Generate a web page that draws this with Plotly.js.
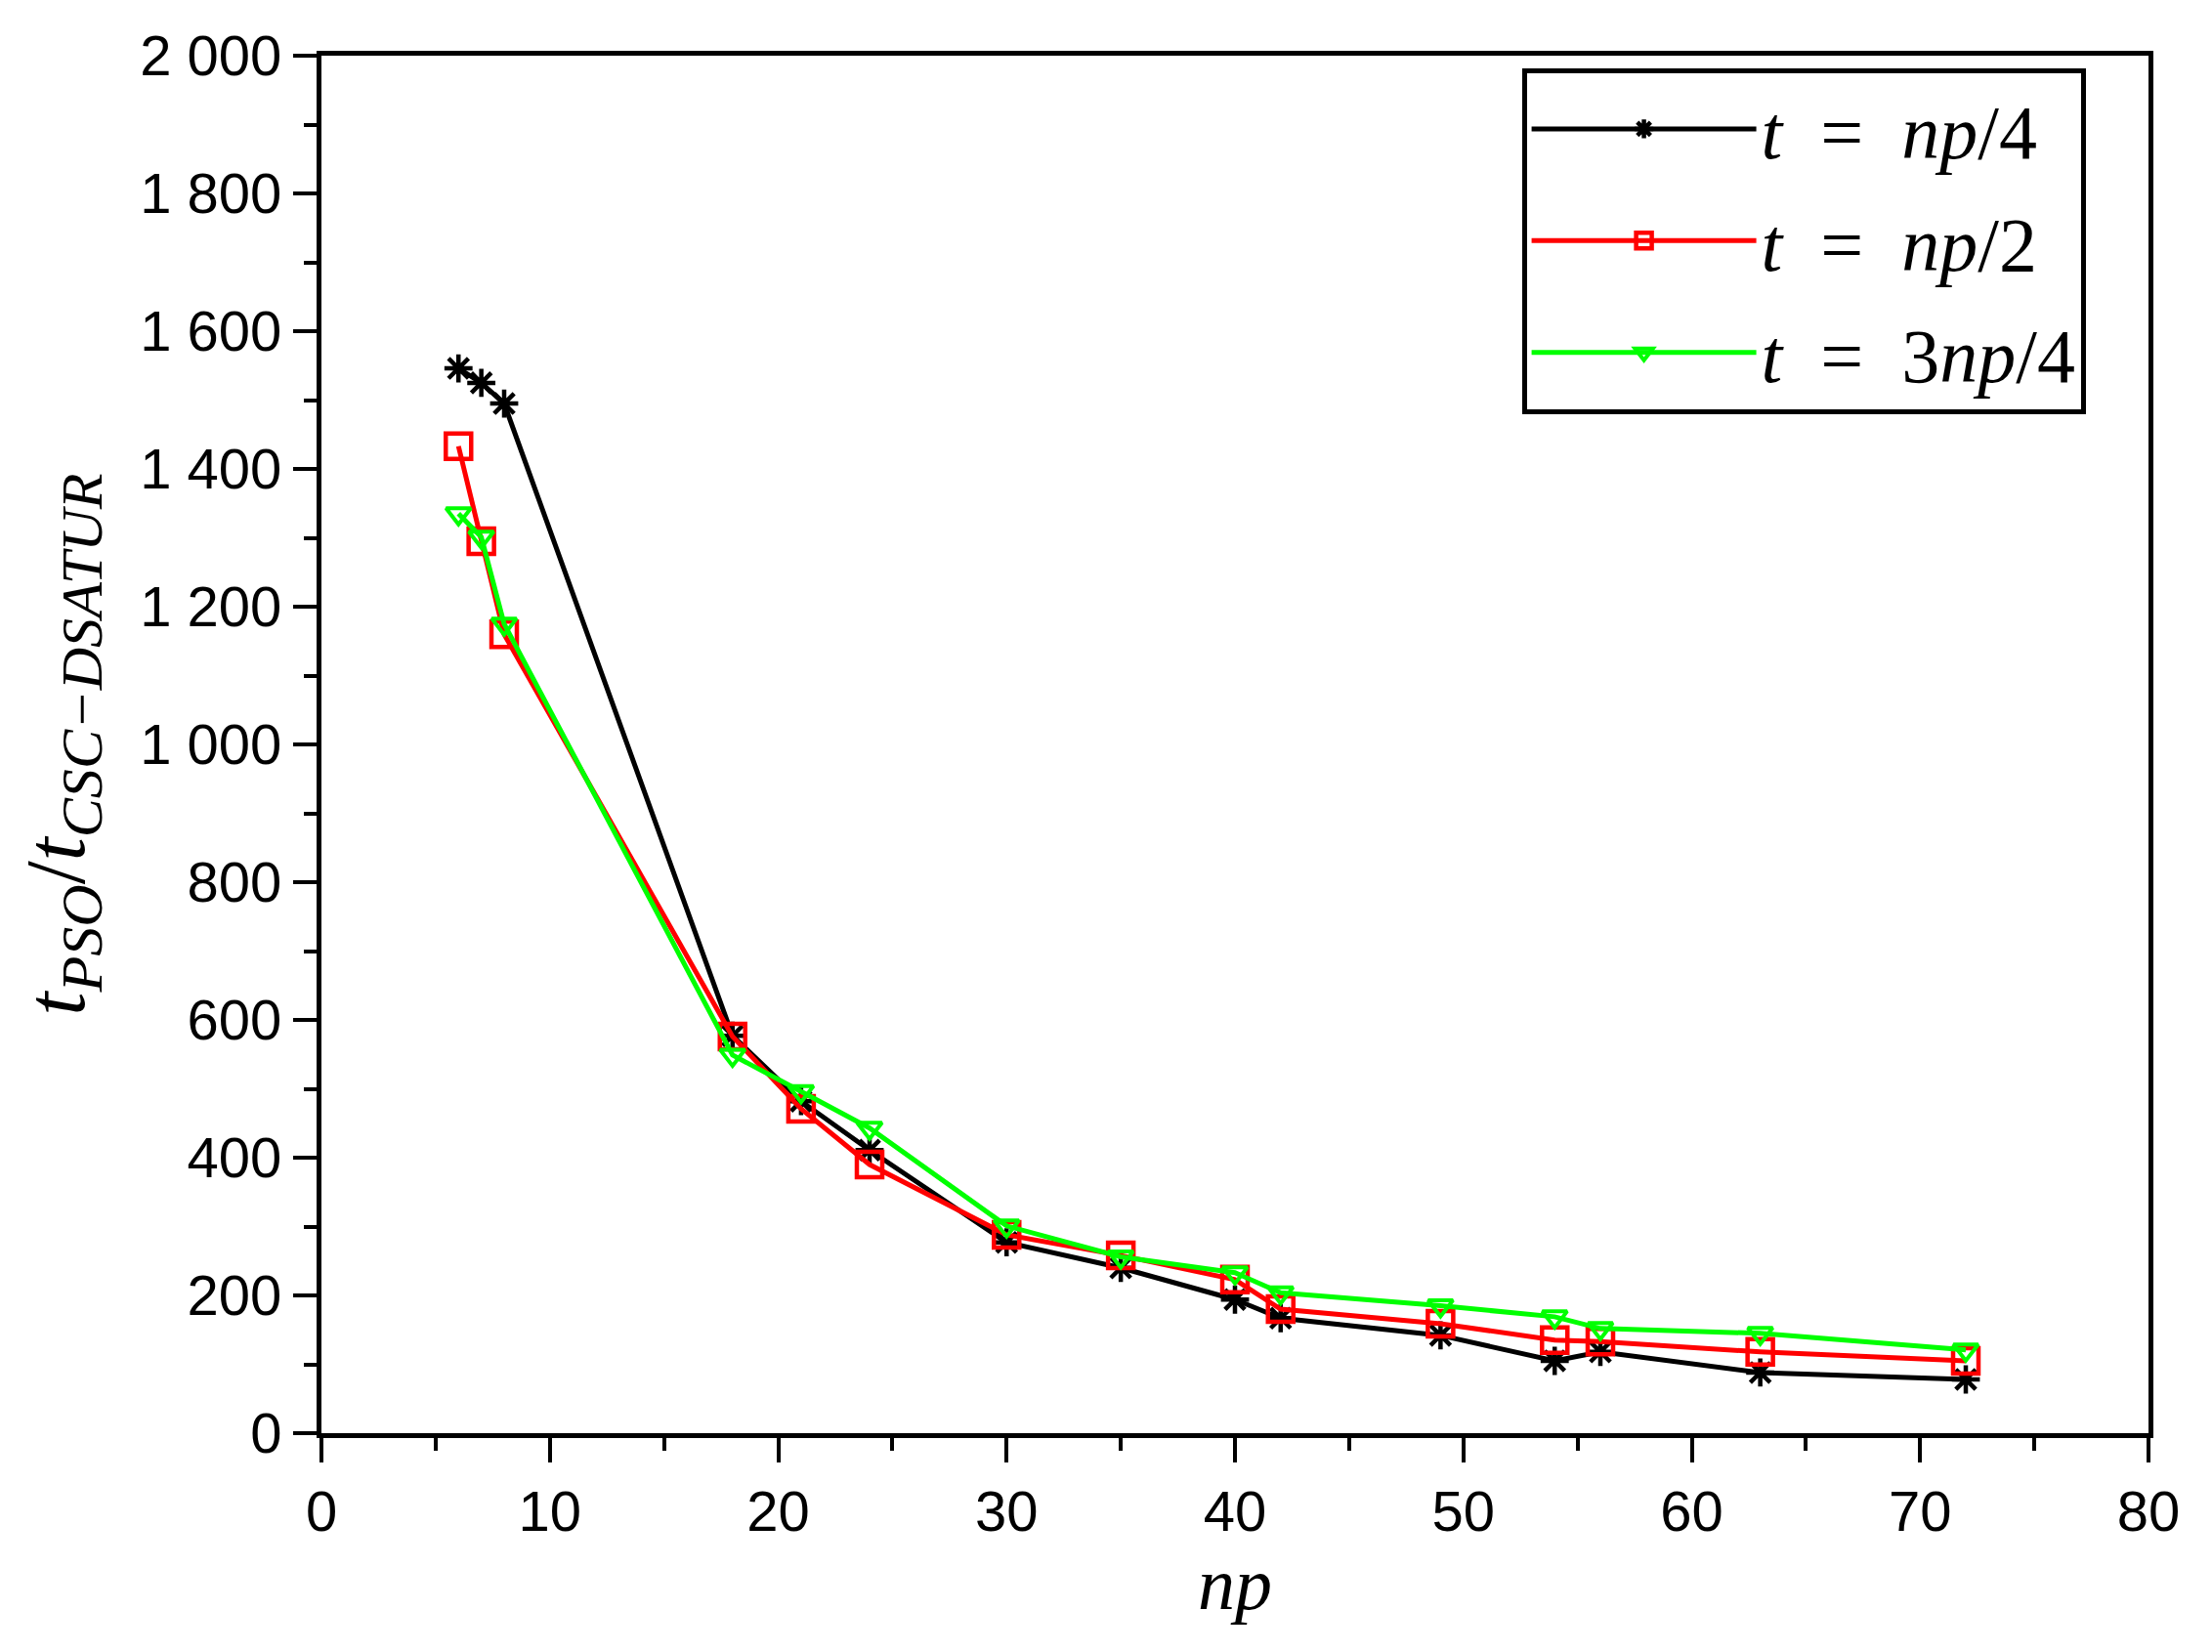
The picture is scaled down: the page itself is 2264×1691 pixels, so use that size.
<!DOCTYPE html>
<html>
<head>
<meta charset="utf-8">
<script src="https://cdn.plot.ly/plotly-3.0.1.min.js"></script>
<style>
  html, body { margin: 0; padding: 0; background: #fff; }
  #plot_ratio { width: 2264px; height: 1691px; }
</style>
</head>
<body>
<div id="plot_ratio"></div>
<script>
// number of particles (np) on the x axis
var np_values = [6, 7, 8, 18, 21, 24, 30, 35, 40, 42, 49, 54, 56, 63, 72];

// ratio t_PSO / t_CSC-DSATUR for each value of t
var ratio_np4  = [1546, 1525, 1495, 577, 482, 411, 277, 240, 194, 167, 142, 105, 118, 88, 78];
var ratio_np2  = [1433, 1295, 1160, 576, 471, 390, 288, 258, 223, 180, 159, 135, 133, 118, 105];
var ratio_3np4 = [1335, 1301, 1175, 549, 496, 443, 301, 256, 233, 204, 185, 169, 152, 145, 121];

// legend names (en spaces around "=" to get the math spacing)
var names = ['<i>t</i>\u2002=\u2002<i>np</i>/4',
             '<i>t</i>\u2002=\u2002<i>np</i>/2',
             '<i>t</i>\u2002=\u20023<i>np</i>/4'];

// Creating the traces
var trace1 = {
    x: np_values,
    y: ratio_np4,
    name: names[0],
    legendgroup: 'g1',
    type: 'scatter',
    mode: 'lines+markers',
    line: {color: '#000000', width: 5},
    marker: {symbol: 'asterisk-open', size: 24, line: {color: '#000000', width: 4.5}}
  };

var trace2 = {
    x: np_values,
    y: ratio_np2,
    name: names[1],
    legendgroup: 'g2',
    type: 'scatter',
    mode: 'lines+markers',
    line: {color: '#ff0000', width: 5},
    marker: {symbol: 'square-open', size: 26, color: '#ff0000', line: {color: '#ff0000', width: 4.5}}
  };

var trace3 = {
    x: np_values,
    y: ratio_3np4,
    name: names[2],
    legendgroup: 'g3',
    type: 'scatter',
    mode: 'lines+markers',
    line: {color: '#00ff00', width: 5},
    marker: {symbol: 'triangle-down-open', size: 22, color: '#00ff00', line: {color: '#00ff00', width: 4}}
  };

var data_plot = [trace1, trace2, trace3];

var axis_font = {family: 'Liberation Sans, Arial, sans-serif', size: 58, color: '#000'};
var math_font = 'Liberation Serif, Times New Roman, serif';

var layout = {
    width: 2264,
    height: 1691,
    margin: {l: 329, r: 65, t: 57, b: 224},
    paper_bgcolor: '#fff',
    plot_bgcolor: '#fff',
    separators: '. ',
    showlegend: true,
    legend: {
        x: 0.657, y: 0.991, xanchor: 'left', yanchor: 'top',
        bgcolor: '#fff', bordercolor: '#000', borderwidth: 5,
        font: {family: math_font, size: 78, color: '#000'},
        traceorder: 'grouped',
        itemwidth: 230,
        entrywidth: 580,
        entrywidthmode: 'pixels',
        tracegroupgap: 10
    },
    xaxis: {
        range: [0, 80],
        dtick: 10,
        showgrid: false,
        zeroline: false,
        showline: true, linecolor: '#000', linewidth: 5, mirror: true,
        ticks: 'outside', ticklen: 25, tickwidth: 4, tickcolor: '#000',
        minor: {dtick: 5, ticks: 'outside', ticklen: 13, tickwidth: 4, tickcolor: '#000'},
        tickfont: axis_font,
        title: {text: '<i>np</i>', font: {family: math_font, size: 76, color: '#000'}, standoff: 18}
    },
    yaxis: {
        range: [0, 2000],
        dtick: 200,
        separatethousands: true,
        showgrid: false,
        zeroline: false,
        showline: true, linecolor: '#000', linewidth: 5, mirror: true,
        ticks: 'outside', ticklen: 24, tickwidth: 4, tickcolor: '#000',
        minor: {dtick: 100, ticks: 'outside', ticklen: 13, tickwidth: 4, tickcolor: '#000'},
        tickfont: axis_font,
        title: {
            text: '<i>t</i><sub><i>PSO</i></sub>/<i>t</i><sub><i>CSC\u2212DSATUR</i></sub>',
            font: {family: math_font, size: 86, color: '#000'},
            standoff: 30
        }
    }
};

Plotly.newPlot('plot_ratio', data_plot, layout, {displayModeBar: false, staticPlot: true});
</script>
</body>
</html>
